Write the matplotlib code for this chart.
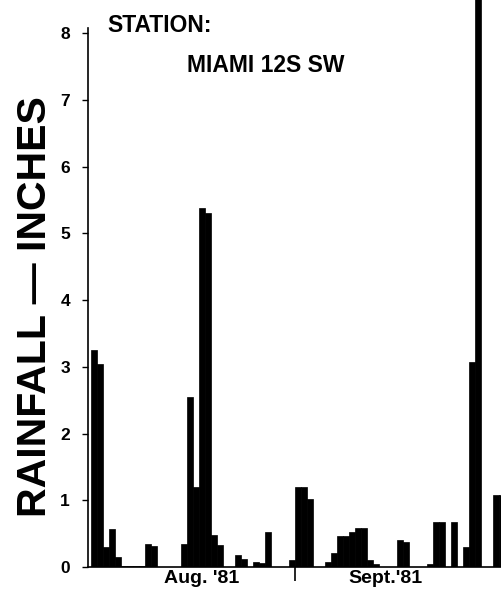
import matplotlib.pyplot as plt

# daily rainfall, day 0 = Aug 1 1981
days = [-3, -2, -1, 0, 1, 2, 3, 4, 5, 6, 7, 12, 13, 14, 15, 16, 17, 18,
        21, 22, 24, 25, 26, 30, 31, 32, 33, 36, 37, 38, 39, 40, 41, 42, 43, 44,
        48, 49, 53, 54, 55, 57, 59, 60, 61, 64, 65]
rain = [3.25, 3.05, 0.3, 0.57, 0.15, 0.02, 0.02, 0.02, 0.02, 0.35, 0.32, 0.35, 2.55, 1.2, 5.38, 5.3, 0.48, 0.33,
        0.18, 0.12, 0.07, 0.06, 0.52, 0.1, 1.2, 1.2, 1.02, 0.07, 0.21, 0.46, 0.46, 0.53, 0.58, 0.58, 0.1, 0.05,
        0.4, 0.37, 0.05, 0.67, 0.67, 0.67, 0.3, 3.07, 9.5, 1.08, 1.08]

month_pos = [15.5, 46]
month_labels = ["Aug. '81", "Sept.'81"]
sept_start = 31

plt.rcParams['font.family'] = ['Liberation Sans', 'DejaVu Sans']
plt.rcParams['font.weight'] = 'bold'

fig = plt.figure(figsize=(5.02, 5.94), dpi=100)
ax = fig.add_axes([88 / 502, 27 / 594, 1 - 88 / 502, 1 - 27 / 594])

ax.bar(days, rain, width=1.0, align='edge', color='black', edgecolor='black', linewidth=0.5)

ax.set_xlim(-3.5, 65.5)
ax.set_ylim(0, 8.5)

for s in ['top', 'right']:
    ax.spines[s].set_visible(False)
ax.spines['left'].set_bounds(0, 8.08)
ax.spines['left'].set_linewidth(1.2)
ax.spines['bottom'].set_linewidth(1.2)

ax.set_yticks(range(0, 9))
ax.tick_params(axis='y', direction='out', length=4, width=1, pad=9, labelsize=12.5)
ax.set_xticks(month_pos)
ax.set_xticklabels(month_labels, fontsize=14, fontweight='bold')
ax.tick_params(axis='x', length=0, pad=2)
ax.set_xticks([sept_start], minor=True)
ax.tick_params(axis='x', which='minor', direction='out', length=10, width=1.2)

fig.text(35 / 502, 1 - 307 / 594, "RAINFALL — INCHES", rotation=90, fontsize=29.5,
         fontweight='bold', ha='center', va='center')
fig.text(107 / 502, 1 - 32 / 594, "STATION:", fontsize=16.5, fontweight='bold', va='baseline')
fig.text(187 / 502, 1 - 72 / 594, "MIAMI 12S SW", fontsize=16.5, fontweight='bold', va='baseline')

fig.savefig("out.png", dpi=100)
